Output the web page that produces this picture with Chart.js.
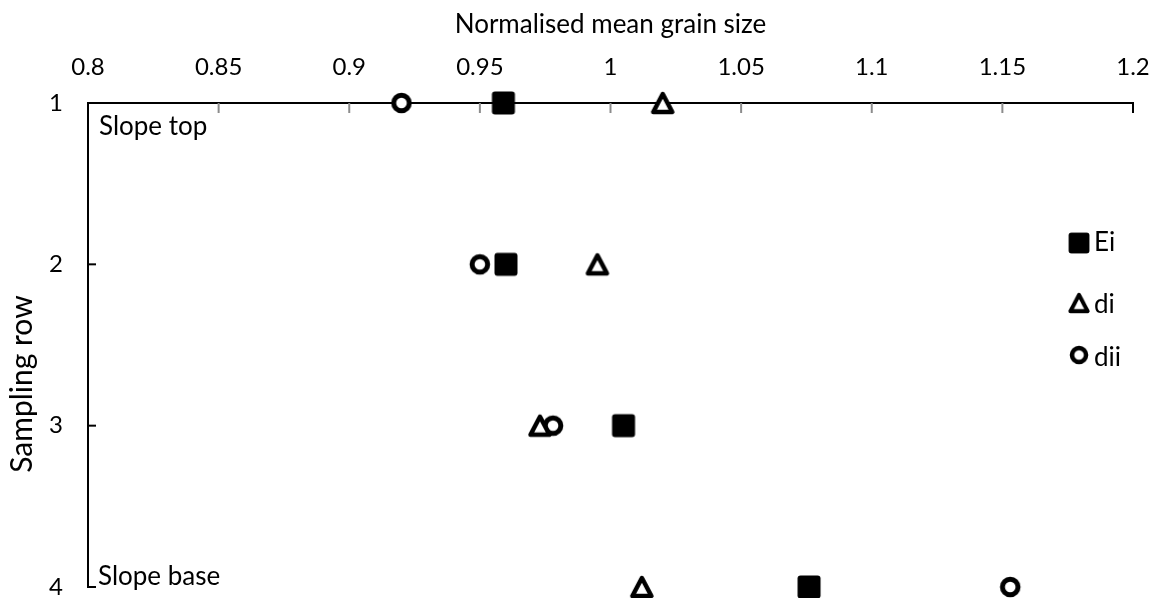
<!DOCTYPE html>
<html>
<head>
<meta charset="utf-8">
<script src="https://cdn.jsdelivr.net/npm/chart.js@4/dist/chart.umd.min.js"></script>
<style>
    html, body { margin: 0; padding: 0; background: #fff; overflow: hidden; }
    #wrap { width: 1153px; height: 598px; position: relative; }
</style>
</head>
<body>
<div id="wrap"><canvas id="grainChart"></canvas></div>
<script>
// Sampling rows (1 = slope top, 4 = slope base)
const rows = [1, 2, 3, 4];
const rowLabels = ['1', '2', '3', '4'];
const xTickLabels = ['0.8', '0.85', '0.9', '0.95', '1', '1.05', '1.1', '1.15', '1.2'];

// Normalised mean grain size per series
const eiValues = [0.959, 0.960, 1.005, 1.076];
const diValues = [1.020, 0.995, 0.973, 1.012];
const diiValues = [0.920, 0.950, 0.978, 1.153];

const FONT = 'Lato, "Open Sans", sans-serif';
const FONT_SIZE = 26;
const TICK_SIZE = 24;
const PLOT_BOTTOM_GAP = 11;

function toPoints(values) {
    return values.map((v, i) => ({ x: v, y: rows[i] }));
}

// marker images, centred in their box like the spreadsheet markers
function makeMarker(kind) {
    const c = document.createElement('canvas');
    c.width = 26;
    c.height = 26;
    const g = c.getContext('2d');
    g.fillStyle = '#fff';
    g.strokeStyle = '#000';
    g.lineJoin = 'round';
    if (kind === 'square') {
        g.fillStyle = '#000';
        g.beginPath();
        g.roundRect(1.5, 1.5, 23, 23, 3);
        g.fill();
    } else if (kind === 'triangle') {
        g.lineWidth = 4.5;
        g.beginPath();
        g.moveTo(13, 4);
        g.lineTo(22.5, 22);
        g.lineTo(3.5, 22);
        g.closePath();
        g.fill();
        g.stroke();
    } else {
        g.lineWidth = 5;
        g.beginPath();
        g.arc(13, 13, 7.8, 0, Math.PI * 2);
        g.fill();
        g.stroke();
    }
    return c;
}

const squareMark = makeMarker('square');
const triangleMark = makeMarker('triangle');
const circleMark = makeMarker('circle');

// Tick marks, captions and the in-plot legend
const decorPlugin = {
    id: 'decor',
    afterLayout(chart) {
        // stretch the row axis down to the same bottom edge as the original
        const ys = chart.scales.y;
        const area = chart.chartArea;
        const bottom = chart.height - PLOT_BOTTOM_GAP;
        ys.bottom = bottom;
        ys.height = bottom - ys.top;
        area.bottom = bottom;
        area.height = bottom - area.top;
        ys.configure();
    },
    afterDraw(chart) {
        const ctx = chart.ctx;
        const area = chart.chartArea;
        const xs = chart.scales.x;
        const ys = chart.scales.y;
        ctx.save();

        // x ticks, pointing down into the plot
        xs.ticks.forEach((t) => {
            if (t.value <= xs.min + 1e-9) return;
            const px = xs.getPixelForValue(t.value);
            ctx.strokeStyle = t.value >= xs.max - 1e-9 ? '#000' : '#8c8c8c';
            ctx.lineWidth = 2;
            ctx.beginPath();
            ctx.moveTo(px, area.top);
            ctx.lineTo(px, area.top + 10);
            ctx.stroke();
        });

        // y ticks, pointing right into the plot
        ys.ticks.forEach((t) => {
            if (t.value === rows[0]) return;
            const py = ys.getPixelForValue(t.value);
            ctx.strokeStyle = '#000';
            ctx.lineWidth = 2;
            ctx.beginPath();
            ctx.moveTo(area.left, py);
            ctx.lineTo(area.left + 8, py);
            ctx.stroke();
        });

        ctx.fillStyle = '#000';
        ctx.font = FONT_SIZE + 'px ' + FONT;
        ctx.textAlign = 'left';
        ctx.textBaseline = 'middle';
        ctx.fillText('Slope top', area.left + 11, area.top + 24);
        ctx.fillText('Slope base', area.left + 10, area.bottom - 10);

        // y axis title
        ctx.save();
        ctx.font = '30px ' + FONT;
        ctx.translate(22, 384);
        ctx.rotate(-Math.PI / 2);
        ctx.textAlign = 'center';
        ctx.fillText('Sampling row', 0, 0);
        ctx.restore();

        // legend inside the plot, right side
        const lx = area.right - 54;
        const markOffsets = [140, 200, 252];
        const textOffsets = [140, 202, 255];
        chart.data.datasets.forEach((ds, i) => {
            const img = ds.pointStyle;
            const w = img.width * 0.9;
            const h = img.height * 0.9;
            ctx.drawImage(img, lx - w / 2, area.top + markOffsets[i] - h / 2, w, h);
            ctx.fillStyle = '#000';
            ctx.textAlign = 'left';
            ctx.fillText(ds.label, lx + 15, area.top + textOffsets[i]);
        });

        ctx.restore();
    }
};

new Chart(document.getElementById('grainChart'), {
    type: 'scatter',
    data: {
        datasets: [{
            label: 'Ei',
            data: toPoints(eiValues),
            pointStyle: squareMark,
            pointRadius: 13,
            clip: false
        }, {
            label: 'di',
            data: toPoints(diValues),
            pointStyle: triangleMark,
            pointRadius: 13,
            clip: false
        }, {
            label: 'dii',
            data: toPoints(diiValues),
            pointStyle: circleMark,
            pointRadius: 13,
            clip: false
        }]
    },
    plugins: [decorPlugin],
    options: {
        responsive: true,
        maintainAspectRatio: false,
        animation: false,
        layout: { padding: { top: 0, left: 0, right: 20, bottom: 1 } },
        plugins: {
            legend: { display: false },
            tooltip: { enabled: false }
        },
        scales: {
            x: {
                type: 'linear',
                position: 'top',
                min: 0.8,
                max: 1.2,
                grid: { display: false, drawTicks: false },
                border: { display: true, color: '#000', width: 2 },
                ticks: {
                    stepSize: 0.05,
                    padding: 21,
                    color: '#000',
                    font: { family: FONT, size: TICK_SIZE },
                    maxRotation: 0,
                    autoSkip: false,
                    callback: (v, i) => xTickLabels[i]
                },
                title: {
                    display: true,
                    text: 'Normalised mean grain size',
                    color: '#000',
                    padding: { top: 9, bottom: 0 },
                    font: { family: FONT, size: FONT_SIZE }
                },
                afterFit(scale) {
                    scale.height = 103;
                    scale.paddingLeft = 0;
                    scale.paddingRight = 0;
                }
            },
            y: {
                type: 'linear',
                reverse: true,
                min: 1,
                max: 4,
                grid: { display: false, drawTicks: false },
                border: { display: true, color: '#000', width: 2 },
                ticks: {
                    stepSize: 1,
                    padding: 25,
                    color: '#000',
                    font: { family: FONT, size: TICK_SIZE },
                    callback: (v) => rowLabels[rows.indexOf(v)]
                },
                afterFit(scale) {
                    scale.width = 88;
                    scale.paddingTop = 0;
                    scale.paddingBottom = 0;
                }
            }
        }
    }
});
</script>
</body>
</html>
